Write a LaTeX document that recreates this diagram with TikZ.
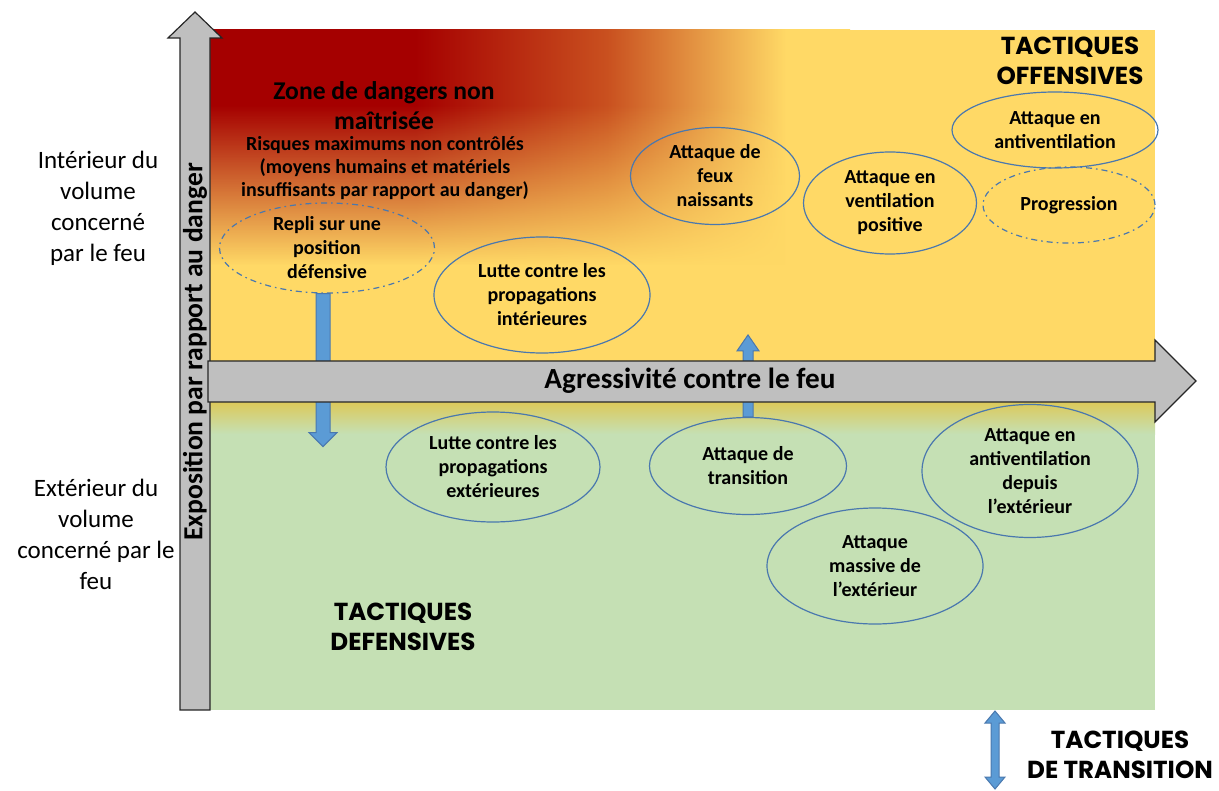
\documentclass[tikz,border=0pt]{standalone}
\usepackage{fontspec}
\setmainfont{Carlito}
\newfontfamily\titlefont{Poppins}
\usepackage{tikz}
\usetikzlibrary{calc,shapes.geometric,fadings}
\definecolor{jaune}{HTML}{FFD966}
\definecolor{vert}{HTML}{C5E0B4}
\definecolor{transjaune}{HTML}{DCC95A}
\definecolor{gris}{HTML}{BFBFBF}
\definecolor{bleu}{HTML}{5B9BD5}
\definecolor{bleutrait}{HTML}{4A78AE}
\definecolor{rouge}{HTML}{A50000}
\definecolor{braise}{HTML}{C9501F}
\pgfdeclarehorizontalshading{feu}{100bp}{color(0bp)=(rouge); color(25bp)=(rouge); color(41bp)=(rouge); color(56bp)=(braise); color(70bp)=(jaune); color(100bp)=(jaune)}
\tikzset{
  fleche/.style={fill=gris, draw=black!85, line width=0.6pt, line join=miter},
  bloc/.style={fill=bleu, draw=bleutrait, line width=0.5pt},
  oval/.style={ellipse, draw=bleutrait, line width=0.6pt, inner sep=0pt, align=center, font=\bfseries\fontsize{10}{12}\selectfont},
  ovalp/.style={oval, dash pattern=on 3pt off 2pt on 0.8pt off 2pt},
  titre/.style={align=center, font=\titlefont\bfseries\fontsize{12.3}{15}\selectfont},
  cote/.style={align=center, font=\fontsize{12.5}{15.5}\selectfont},
}

\begin{document}
\begin{tikzpicture}[x=0.5pt,y=-0.5pt]
  \useasboundingbox (0,0) rectangle (1219,791);
  % fonds
  \fill[jaune] (210,30) rectangle (1155,361);
  \shade[shading=feu] (210,30) rectangle (850,105);
  \shade[shading=feu, path fading=south] (210,105) rectangle (850,265);
  \fill[vert] (210,402) rectangle (1155,710);
  \shade[top color=transjaune, bottom color=vert] (210,402) rectangle (1155,434);

  % tactiques
  \node[ovalp, minimum width=107.5pt, minimum height=45pt] (repli) at (327,248) {Repli sur une\\position\\défensive};
  \node[oval, minimum width=108pt, minimum height=58pt] (interieures) at (542,295) {Lutte contre les\\propagations\\intérieures};
  \node[oval, minimum width=84.5pt, minimum height=48.5pt] (naissants) at (715,176) {Attaque de\\feux\\naissants};
  \node[oval, minimum width=86.5pt, minimum height=51pt] (ventilation) at (890,203) {Attaque en\\ventilation\\positive};
  \node[oval, minimum width=103pt, minimum height=38pt] (antiventilation) at (1055,130) {Attaque en\\antiventilation};
  \node[ovalp, minimum width=86pt, minimum height=38pt] (progression) at (1069,205) {Progression};
  \node[oval, minimum width=107pt, minimum height=55pt] (exterieures) at (493,467) {Lutte contre les\\propagations\\extérieures};
  \node[oval, minimum width=98.5pt, minimum height=48.5pt] (transition) at (748,466) {Attaque de\\transition};
  \node[oval, minimum width=108pt, minimum height=66.5pt] (depuis) at (1030,471) {Attaque en\\antiventilation\\depuis\\l’extérieur};
  \node[oval, minimum width=108pt, minimum height=58pt] (massive) at (875,566) {Attaque\\massive de\\l’extérieur};

  % passages
  \draw[bloc] ($(repli.south)+(-11,0)$) -- ++(0,139) -- ++(-7,0) -- ++(14,14) -- ++(14,-14) -- ++(-7,0) -- ++(0,-139) -- cycle;
  \draw[bloc] ($(transition.north)+(-5,0)$) -- ++(0,-66) -- ++(-6,0) -- ++(11,-16) -- ++(11,16) -- ++(-6,0) -- ++(0,66) -- cycle;
  \coordinate (bascule) at (995,711);
  \draw[bloc] (bascule) -- ++(10,12) -- ++(-6,0) -- ++(0,54) -- ++(6,0) -- ++(-10,12) -- ++(-10,-12) -- ++(6,0) -- ++(0,-54) -- ++(-6,0) -- cycle;

  % axes
  \draw[fleche] (180,710) -- (180,38) -- (168,38) -- (195,12) -- (222,38) -- (210,38) -- (210,710) -- cycle;
  \draw[fleche] (208,361) -- (1155,361) -- (1155,340) -- (1196,381) -- (1155,422) -- (1155,402) -- (208,402) -- cycle;
  \node[rotate=90, font=\bfseries\fontsize{13.8}{16}\selectfont] (exposition) at (195,352) {Exposition par rapport au danger};
  \node[font=\bfseries\fontsize{14.6}{17}\selectfont] (agressivite) at (690,381) {Agressivité contre le feu};

  % textes
  \node[align=center, font=\bfseries\fontsize{12.8}{15}\selectfont] (zone) at (384,106) {Zone de dangers non\\maîtrisée};
  \node[align=center, font=\bfseries\fontsize{10}{11.5}\selectfont] (risques) at (385,168) {Risques maximums non contrôlés\\(moyens humains et matériels\\insuffisants par rapport au danger)};
  \node[titre] (offensives) at (1070,61) {TACTIQUES\\OFFENSIVES};
  \node[titre] (defensives) at (403,627) {TACTIQUES\\DEFENSIVES};
  \node[titre] (transitions) at (1120,755) {TACTIQUES\\DE TRANSITION};
  \node[cote] (interieur) at (98,208) {Intérieur du\\volume\\concerné\\par le feu};
  \node[cote] (exterieur) at (96,534) {Extérieur du\\volume\\concerné par le\\feu};
\end{tikzpicture}
\end{document}
